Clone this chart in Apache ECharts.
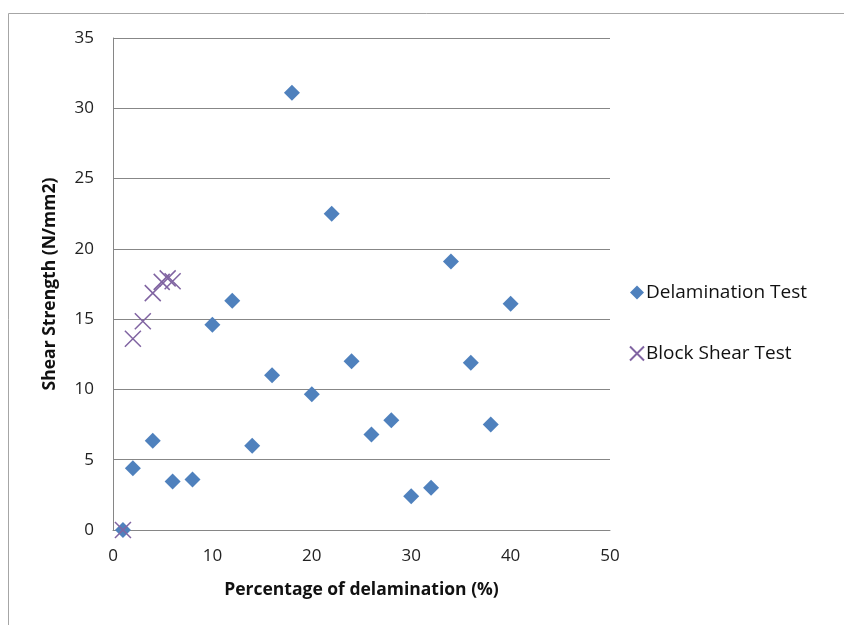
<!DOCTYPE html>
<html>
<head>
<meta charset="utf-8">
<script src="https://cdn.jsdelivr.net/npm/echarts@6/dist/echarts.min.js"></script>
<style>html,body{margin:0;padding:0;background:#fff;}#c{width:844px;height:625px;}</style>
</head>
<body>
<div id="c"></div>
<script>
const delamX = [1, 2, 4, 6, 8, 10, 12, 14, 16, 18, 20, 22, 24, 26, 28, 30, 32, 34, 36, 38, 40];
const delamY = [0, 4.4, 6.35, 3.45, 3.6, 14.6, 16.3, 6.0, 11.0, 31.1, 9.65, 22.5, 12.0, 6.8, 7.8, 2.4, 3.0, 19.1, 11.9, 7.5, 16.1];
const blockX = [1, 2, 3, 4, 4.9, 5.5, 6];
const blockY = [0, 13.6, 14.85, 16.85, 17.65, 17.9, 17.7];
const xTicks = [0, 10, 20, 30, 40, 50];
const yTicks = [0, 5, 10, 15, 20, 25, 30, 35];

const font = '"Open Sans", "Noto Sans", sans-serif';
const chart = echarts.init(document.getElementById('c'));
chart.setOption({
  backgroundColor: '#fff',
  animation: false,
  graphic: [{
    type: 'rect', shape: {x: 8.5, y: 13.5, width: 900, height: 700},
    style: {fill: 'none', stroke: '#a6a6a6', lineWidth: 1}, silent: true, z: -1
  }],
  grid: {left: 113, right: 234, top: 38, bottom: 95},
  legend: {
    orient: 'vertical', left: 624, top: 278, itemGap: 42,
    itemWidth: 14, itemHeight: 14,
    textStyle: {fontFamily: font, fontSize: 19, color: '#111', padding: [0, 0, 0, -3]},
    data: ['Delamination Test', 'Block Shear Test']
  },
  xAxis: {
    type: 'value', min: xTicks[0], max: xTicks[xTicks.length - 1], interval: 10,
    name: 'Percentage of delamination (%)', nameLocation: 'middle', nameGap: 51,
    nameTextStyle: {fontFamily: font, fontSize: 17.5, fontWeight: 'bold', color: '#111'},
    axisLine: {show: true, lineStyle: {color: '#868686', width: 1}},
    axisTick: {show: false},
    splitLine: {show: false},
    axisLabel: {fontFamily: font, fontSize: 17, color: '#222', margin: 18}
  },
  yAxis: {
    type: 'value', min: yTicks[0], max: yTicks[yTicks.length - 1], interval: 5,
    name: 'Shear Strength (N/mm2)', nameLocation: 'middle', nameGap: 54,
    nameTextStyle: {fontFamily: font, fontSize: 17.5, fontWeight: 'bold', color: '#111'},
    axisLine: {show: true, lineStyle: {color: '#868686', width: 1}},
    axisTick: {show: false},
    splitLine: {show: true, lineStyle: {color: '#878787', width: 1}},
    axisLabel: {fontFamily: font, fontSize: 17, color: '#222', margin: 19}
  },
  series: [{
    name: 'Delamination Test', type: 'scatter',
    symbol: 'diamond', symbolSize: 16,
    itemStyle: {color: '#4f81bd', opacity: 1},
    data: delamX.map((x, i) => [x, delamY[i]]), z: 2
  }, {
    name: 'Block Shear Test', type: 'scatter',
    symbol: 'path://M0,0L10,10M10,0L0,10', symbolSize: 16,
    itemStyle: {color: 'rgba(0,0,0,0)', borderColor: '#8064a2', borderWidth: 1.5, opacity: 1},
    data: blockX.map((x, i) => [x, blockY[i]]), z: 3
  }]
});
</script>
</body>
</html>
